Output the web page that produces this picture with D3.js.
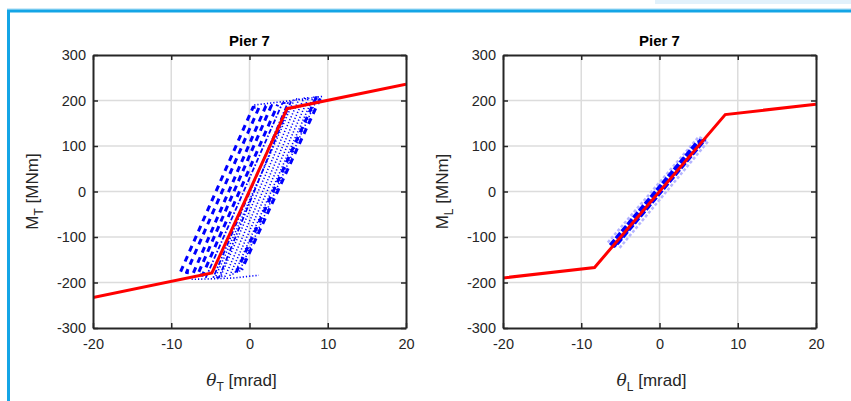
<!DOCTYPE html>
<html>
<head>
<meta charset="utf-8">
<script src="https://cdn.jsdelivr.net/npm/d3@7"></script>
<style>
  body { margin: 0; background: #fff; }
  svg { display: block; font-family: "Liberation Sans", Arial, sans-serif; }
</style>
</head>
<body>
<svg id="chart" width="851" height="401"></svg>
<script>
// ---- data ----
const xTicks = [-20, -10, 0, 10, 20];
const yTicks = [-300, -200, -100, 0, 100, 200, 300];

// red backbone curves
const backboneT = [[-20, -233], [-4.8, -179], [4.8, 182], [20, 236]];
const backboneL = [[-20, -190], [-8.3, -167], [8.4, 169], [20, 192]];

// transverse response, long dashes (left group of cycles)
const cycTDash = [[-8.8, -176], [0.45, 185], [1.25, 186], [-8.05, -178], [-7.2, -180], [2.1, 188],
  [2.8, 189], [-6.6, -182], [-6.0, -184], [3.6, 191]];
// transverse response, thick dashes on the right edge
const cycTDashR = [[-1.7, -178], [8.5, 206], [9.1, 207], [-1.0, -172]];
// transverse response, dotted (right group of cycles)
const cycTDot = [[-4.3, -186], [5.75, 203], [6.35, 204], [-3.7, -187], [-3.1, -186], [6.95, 205],
  [7.55, 206], [-2.5, -184], [-1.9, -180], [8.15, 207], [8.75, 208], [-1.3, -176]];
// transverse response, dash-dot near the backbone
const cycTDashDot = [[-5.6, -190], [4.2, 194], [4.9, 195], [-4.6, -188], [-3.9, -189], [5.3, 198]];
// plateaus at top and bottom
const plateauTop = [[0.6, 190], [3.5, 196], [6.0, 201], [9.3, 209]];
const plateauBot = [[-7.4, -193], [-5.0, -192], [-2.0, -190], [1.2, -184]];

// longitudinal response: narrow band hugging the elastic branch
const cycLDash = [[-6.3, -118], [4.8, 108], [5.7, 112], [-5.3, -113], [-5.8, -120], [5.3, 114]];
const cycLFaint = [[-6.6, -112], [5.0, 120], [6.2, 110], [-5.1, -124]];

const panels = [
  { x0: 93, title: "Pier 7", yLab: "T", backbone: backboneT,
    series: [
      { d: cycTDot, w: 1.6, dash: "1.2,2", c: "#0000ff" },
      { d: plateauTop, w: 1.6, dash: "1.2,2", c: "#0000ff" },
      { d: plateauBot, w: 1.6, dash: "1.2,2", c: "#0000ff" },
      { d: cycTDashDot, w: 1.8, dash: "5,2,1.5,2", c: "#0000ff" },
      { d: cycTDashR, w: 3, dash: "6,5", c: "#0000ff" },
      { d: cycTDash, w: 3, dash: "6,5", c: "#0000ff" }
    ] },
  { x0: 503, title: "Pier 7", yLab: "L", backbone: backboneL,
    series: [
      { d: cycLFaint, w: 2.5, dash: "3,2", c: "#b4b4ff" },
      { d: cycLDash, w: 3.5, dash: "7,2", c: "#0000ff" }
    ] }
];

const svg = d3.select("#chart");
const pw = 313, plotTop = 55, plotBottom = 328;
const ink = "#262626";

// page frame like the screenshot
svg.append("rect").attr("x", 655).attr("y", 0).attr("width", 196).attr("height", 4).attr("fill", "#e2f1fb");
svg.append("line").attr("x1", 7).attr("x2", 851).attr("y1", 9).attr("y2", 9).attr("stroke", "#9fd6f2").attr("stroke-width", 1);
svg.append("line").attr("x1", 7).attr("x2", 851).attr("y1", 11).attr("y2", 11).attr("stroke", "#14a5e6").attr("stroke-width", 3);
svg.append("line").attr("x1", 8.5).attr("x2", 8.5).attr("y1", 10).attr("y2", 401).attr("stroke", "#14a5e6").attr("stroke-width", 3);

panels.forEach(function(p) {
  const x = d3.scaleLinear().domain([-20, 20]).range([p.x0, p.x0 + pw]);
  const y = d3.scaleLinear().domain([-300, 300]).range([plotBottom, plotTop]);
  const g = svg.append("g");

  // grid
  g.append("g").selectAll("line").data(xTicks.slice(1, -1)).join("line")
    .attr("x1", d => x(d)).attr("x2", d => x(d)).attr("y1", plotTop).attr("y2", plotBottom)
    .attr("stroke", "#dcdcdc").attr("stroke-width", 1.5);
  g.append("g").selectAll("line").data(yTicks.slice(1, -1)).join("line")
    .attr("y1", d => y(d)).attr("y2", d => y(d)).attr("x1", p.x0).attr("x2", p.x0 + pw)
    .attr("stroke", "#dcdcdc").attr("stroke-width", 1.5);

  const line = d3.line().x(d => x(d[0])).y(d => y(d[1]));
  const clip = "clip" + p.x0;
  svg.append("clipPath").attr("id", clip).append("rect")
    .attr("x", p.x0).attr("y", plotTop).attr("width", pw).attr("height", plotBottom - plotTop);
  const plot = g.append("g").attr("clip-path", "url(#" + clip + ")");

  p.series.forEach(function(s) {
    plot.append("path").attr("d", line(s.d)).attr("fill", "none")
      .attr("stroke", s.c).attr("stroke-width", s.w).attr("stroke-dasharray", s.dash)
      .attr("stroke-linejoin", "round");
  });
  plot.append("path").attr("d", line(p.backbone)).attr("fill", "none")
    .attr("stroke", "#ff0000").attr("stroke-width", 3);

  // axes: ticks inward on all four sides
  const fmt = d => String(d);
  g.append("g").attr("transform", "translate(0," + plotBottom + ")")
    .call(d3.axisBottom(x).tickValues(xTicks).tickFormat(fmt).tickSizeInner(-5).tickSizeOuter(0).tickPadding(11));
  g.append("g").attr("transform", "translate(0," + plotTop + ")")
    .call(d3.axisTop(x).tickValues(xTicks).tickSizeInner(-5).tickSizeOuter(0).tickFormat(""));
  g.append("g").attr("transform", "translate(" + p.x0 + ",0)")
    .call(d3.axisLeft(y).tickValues(yTicks).tickFormat(fmt).tickSizeInner(-5).tickSizeOuter(0).tickPadding(7));
  g.append("g").attr("transform", "translate(" + (p.x0 + pw) + ",0)")
    .call(d3.axisRight(y).tickValues(yTicks).tickSizeInner(-5).tickSizeOuter(0).tickFormat(""));

  g.selectAll(".domain").attr("stroke", ink).attr("stroke-width", 2);
  g.selectAll(".tick line").attr("stroke", ink).attr("stroke-width", 1.5);
  g.selectAll(".tick text").attr("fill", ink).style("font-size", "14.5px").style("font-family", "Liberation Sans, Arial, sans-serif");

  // title
  g.append("text").attr("x", p.x0 + pw / 2).attr("y", 46).attr("text-anchor", "middle")
    .style("font-size", "15px").style("font-weight", "bold").attr("fill", "#000").text(p.title);

  // y label
  const yl = g.append("text").attr("transform", "translate(" + (p.x0 - 55) + "," + ((plotTop + plotBottom) / 2) + ") rotate(-90)")
    .attr("text-anchor", "middle").style("font-size", "17px").attr("fill", ink);
  yl.append("tspan").text("M");
  yl.append("tspan").attr("dy", 5).style("font-size", "12px").text(p.yLab);
  yl.append("tspan").attr("dy", -5).text(" [MNm]");

  // x label
  const xl = g.append("text").attr("x", p.x0 + pw / 2 - 8).attr("y", 386).attr("text-anchor", "middle")
    .style("font-size", "17px").attr("fill", ink);
  xl.append("tspan").style("font-style", "italic").style("font-family", "DejaVu Serif, serif").text("\u03b8");
  xl.append("tspan").attr("dy", 5).style("font-size", "12px").text(p.yLab);
  xl.append("tspan").attr("dy", -5).text(" [mrad]");
});
</script>
</body>
</html>
